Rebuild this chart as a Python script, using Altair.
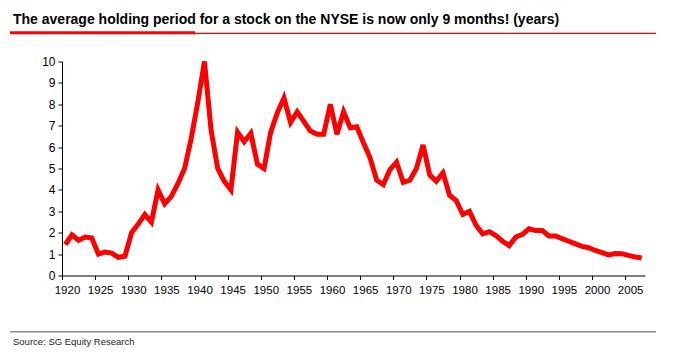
import altair as alt
import pandas as pd

years = list(range(1920, 2008))
holding_years = [
    1.45, 1.9, 1.65, 1.8, 1.75, 1.0, 1.1, 1.05, 0.85, 0.9,      # 1920-1929
    2.0, 2.4, 2.85, 2.5, 4.0, 3.35, 3.7, 4.3, 5.0, 6.4,         # 1930-1939
    8.1, 10.0, 6.8, 5.0, 4.4, 4.0, 6.7, 6.25, 6.65, 5.2,        # 1940-1949
    5.0, 6.7, 7.6, 8.3, 7.15, 7.65, 7.2, 6.75, 6.6, 6.6,        # 1950-1959
    8.0, 6.6, 7.65, 6.9, 6.95, 6.2, 5.5, 4.45, 4.25, 4.95,      # 1960-1969
    5.3, 4.35, 4.45, 5.0, 6.1, 4.7, 4.4, 4.8, 3.75, 3.5,        # 1970-1979
    2.85, 3.0, 2.35, 1.95, 2.05, 1.87, 1.6, 1.4, 1.8, 1.92,     # 1980-1989
    2.18, 2.1, 2.1, 1.85, 1.85, 1.72, 1.6, 1.48, 1.36, 1.3,     # 1990-1999
    1.17, 1.07, 0.96, 1.03, 1.02, 0.94, 0.87, 0.82,             # 2000-2007
]
x_tick_labels = list(range(1920, 2006, 5))
y_ticks = list(range(0, 11))

title_text = "The average holding period for a stock on the NYSE is now only 9 months! (years)"
source_text = "Source: SG Equity Research"

df = pd.DataFrame({"year": years, "value": holding_years})

FONT = "Liberation Sans"
W, H = 583, 214
half_cat = W / 88 / 2

line = alt.Chart(df).mark_line(color="#FF0000", strokeWidth=5).encode(
    x=alt.X(
        "year:Q",
        scale=alt.Scale(domain=[1919.5, 2007.5], nice=False, zero=False),
        axis=alt.Axis(
            values=x_tick_labels,
            format="d",
            title=None,
            grid=False,
            tickOffset=-half_cat,
            labelOffset=half_cat + 1.7,
            tickSize=4,
            tickColor="black",
            domainColor="black",
            labelPadding=5,
            labelFont=FONT,
            labelFontSize=11.5,
            labelColor="black",
            labelFlush=False,
            labelOverlap=False,
        ),
    ),
    y=alt.Y(
        "value:Q",
        scale=alt.Scale(domain=[0, 10], nice=False),
        axis=alt.Axis(
            values=y_ticks,
            title=None,
            grid=False,
            tickSize=4,
            tickColor="black",
            domainColor="black",
            labelPadding=3,
            labelFont=FONT,
            labelFontSize=12,
            labelColor="black",
            labelFlush=False,
        ),
    ),
)

one = alt.Data(values=[{}])

title = alt.Chart(one).mark_text(
    text=title_text, align="left", baseline="alphabetic",
    font=FONT, fontSize=14, fontWeight="bold", color="black",
).encode(x=alt.value(-49), y=alt.value(-37.5))

thin_red = alt.Chart(one).mark_rule(color="#FF0000", strokeWidth=1.3).encode(
    x=alt.value(-52), x2=alt.value(594), y=alt.value(-28.2)
)
thick_red = alt.Chart(one).mark_rule(color="#FF0000", strokeWidth=3).encode(
    x=alt.value(-52), x2=alt.value(133), y=alt.value(-28.8)
)
gray_rule = alt.Chart(one).mark_rule(color="#8c8c8c", strokeWidth=1.5).encode(
    x=alt.value(-52), x2=alt.value(594), y=alt.value(270.2)
)
source = alt.Chart(one).mark_text(
    text=source_text, align="left", baseline="alphabetic",
    font=FONT, fontSize=9.5, color="#222222",
).encode(x=alt.value(-49), y=alt.value(283.5))

chart = alt.layer(line, title, thin_red, thick_red, gray_rule, source).properties(
    width=W,
    height=H,
    autosize=alt.AutoSizeParams(type="none"),
    padding={"left": 62, "top": 61.5, "right": 35, "bottom": 78.5},
    background="white",
).configure_view(stroke=None)

chart.save("out.html", embed_options={"renderer": "svg", "actions": False})
